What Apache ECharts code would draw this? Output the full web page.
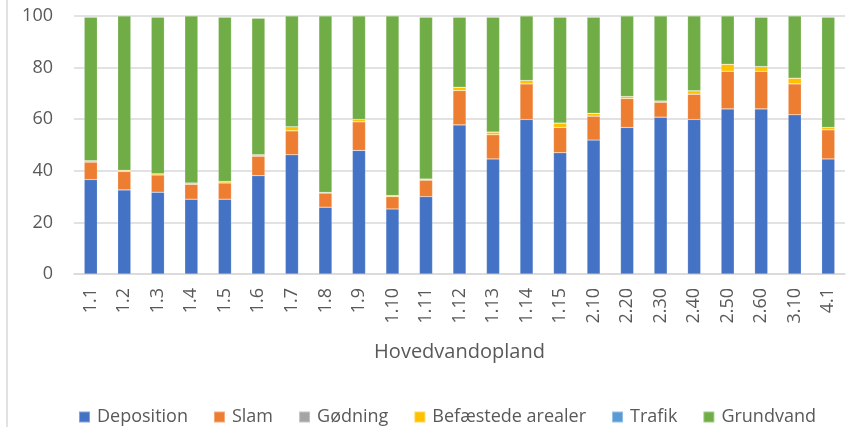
<!DOCTYPE html>
<html>
<head>
<meta charset="utf-8">
<script src="https://cdn.jsdelivr.net/npm/echarts@6/dist/echarts.min.js"></script>
<style>
  html, body { margin: 0; padding: 0; background: #fff; }
  #chart { width: 846px; height: 427px; }
</style>
</head>
<body>
<div id="chart"></div>
<script>
// kategorier (hovedvandoplande)
const categories = ['1.1', '1.2', '1.3', '1.4', '1.5', '1.6', '1.7', '1.8', '1.9', '1.10', '1.11', '1.12',
  '1.13', '1.14', '1.15', '2.10', '2.20', '2.30', '2.40', '2.50', '2.60', '3.10', '4.1']

// andele i procent
const deposition = [36.6, 32.6, 31.7, 29.0, 29.0, 38.1, 46.2, 25.9, 47.9, 25.2, 30.0, 57.8,
  44.6, 59.9, 47.0, 51.9, 56.8, 60.8, 59.9, 64.0, 64.0, 61.7, 44.6]
const slam = [6.8, 7.1, 6.7, 5.8, 6.3, 7.6, 9.3, 5.5, 11.1, 4.8, 6.4, 13.3,
  9.4, 13.8, 9.8, 9.3, 11.2, 5.8, 9.8, 14.6, 14.6, 12.0, 11.3]
const godning = [0, 0, 0, 0, 0, 0, 0, 0, 0, 0, 0, 0, 0, 0, 0, 0, 0, 0, 0, 0, 0, 0, 0]
const befaestede = [0.5, 0.5, 0.5, 0.5, 0.6, 0.5, 1.6, 0.2, 0.9, 0.4, 0.4, 1.3,
  1.0, 1.3, 1.7, 1.1, 0.8, 0.5, 1.3, 2.7, 1.8, 2.2, 0.9]
const trafik = [0, 0, 0, 0, 0, 0, 0, 0, 0, 0, 0, 0, 0, 0, 0, 0, 0, 0, 0, 0, 0, 0, 0]
const grundvand = [55.6, 59.8, 60.6, 64.7, 63.6, 52.9, 42.9, 68.4, 40.1, 69.6, 62.7, 27.1,
  44.5, 25.0, 41.0, 37.2, 31.2, 32.9, 29.0, 18.7, 19.1, 24.1, 42.7]

const yTicks = [0, 20, 40, 60, 80, 100]

const textColor = '#595959'
const font = 'Open Sans'

const chart = echarts.init(document.getElementById('chart'))

const mkSeries = (name, data, color) => ({
  name,
  type: 'bar',
  stack: 'total',
  barWidth: '39%',
  data,
  itemStyle: { color, borderColor: 'rgba(255,255,255,0.35)', borderWidth: 0.5 }
})

chart.setOption({
  animation: false,
  textStyle: { fontFamily: font },
  graphic: [{
    // venstre kant af diagramområdet
    type: 'line',
    shape: { x1: 7, y1: 0, x2: 7, y2: 427 },
    style: { stroke: '#d9d9d9', lineWidth: 1.5 }
  }],
  legend: {
    top: 403,
    left: 73,
    itemWidth: 11,
    itemHeight: 11,
    itemGap: 25,
    icon: 'rect',
    textStyle: { color: textColor, fontSize: 18, fontFamily: font, padding: [0, 0, 0, 2] },
    data: ['Deposition', 'Slam', 'Gødning', 'Befæstede arealer', 'Trafik', 'Grundvand']
  },
  grid: { left: 74, right: 1, top: 16, bottom: 153 },
  xAxis: {
    type: 'category',
    data: categories,
    name: 'Hovedvandopland',
    nameLocation: 'middle',
    nameGap: 68,
    nameTextStyle: { color: textColor, fontSize: 20, fontFamily: font },
    axisTick: { show: false },
    axisLine: { lineStyle: { color: '#d9d9d9', width: 1.5 } },
    axisLabel: { rotate: 90, color: textColor, fontSize: 18, margin: 14, fontFamily: font }
  },
  yAxis: {
    type: 'value',
    min: yTicks[0],
    max: yTicks[yTicks.length - 1],
    interval: 20,
    axisLabel: { color: textColor, fontSize: 18, margin: 21, fontFamily: font },
    splitLine: { lineStyle: { color: '#d9d9d9', width: 1.5 } }
  },
  series: [
    mkSeries('Deposition', deposition, '#4472c4'),
    mkSeries('Slam', slam, '#ed7d31'),
    mkSeries('Gødning', godning, '#a5a5a5'),
    mkSeries('Befæstede arealer', befaestede, '#ffc000'),
    mkSeries('Trafik', trafik, '#5b9bd5'),
    mkSeries('Grundvand', grundvand, '#70ad47')
  ]
})
</script>
</body>
</html>
